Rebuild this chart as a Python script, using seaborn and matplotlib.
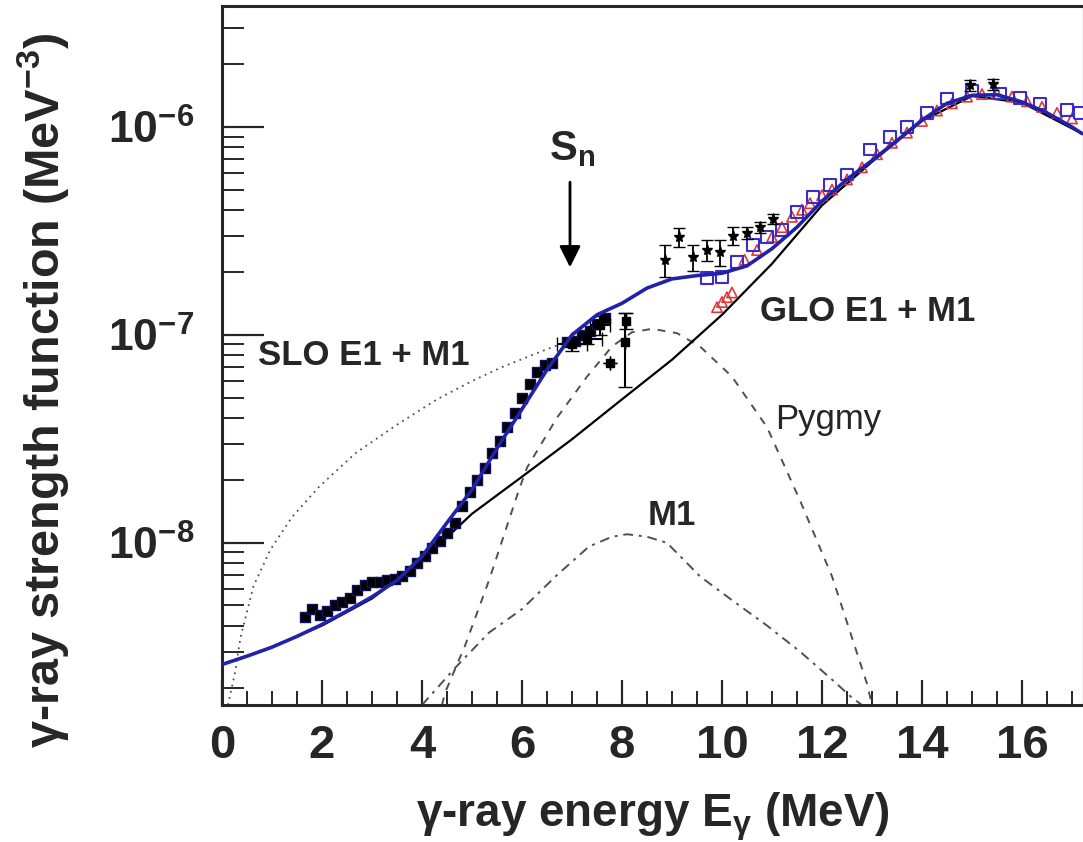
import numpy as np
import pandas as pd
import matplotlib
matplotlib.use('Agg')
import matplotlib.pyplot as plt
import seaborn as sns

# total strength (blue curve)
e_total = [0, 0.5, 1, 1.5, 2, 2.5, 3, 3.5, 4, 4.5, 5, 5.5, 6, 6.5, 7, 7.5, 8, 8.5, 9, 9.5,
           10, 10.5, 11, 11.5, 12, 12.5, 13, 13.5, 14, 14.5, 15, 15.5, 16, 16.5, 17, 17.2]
f_total = [2.6e-9, 2.85e-9, 3.15e-9, 3.55e-9, 4.05e-9, 4.7e-9, 5.5e-9, 6.6e-9, 8.6e-9, 1.25e-8,
           1.8e-8, 2.85e-8, 4.4e-8, 6.8e-8, 1.0e-7, 1.25e-7, 1.42e-7, 1.68e-7, 1.86e-7, 1.93e-7,
           1.98e-7, 2.15e-7, 2.6e-7, 3.3e-7, 4.4e-7, 5.6e-7, 6.9e-7, 8.6e-7, 1.08e-6, 1.3e-6,
           1.42e-6, 1.43e-6, 1.32e-6, 1.17e-6, 1.0e-6, 0.93e-6]

# GLO E1 + M1
e_glo = [0, 1, 2, 3, 4, 5, 6, 7, 8, 9, 10, 11, 12, 13, 14, 15, 16, 17.2]
f_glo = [2.6e-9, 3.15e-9, 4.0e-9, 5.4e-9, 8.2e-9, 1.38e-8, 2.08e-8, 3.15e-8, 4.9e-8, 7.6e-8,
         1.25e-7, 2.2e-7, 4.2e-7, 6.8e-7, 1.07e-6, 1.41e-6, 1.31e-6, 0.93e-6]

# SLO E1 + M1
e_slo = [0.12, 0.26, 0.37, 0.63, 0.97, 1.4, 1.94, 2.67, 3.5, 4.3, 5.0, 5.6, 6.2, 6.9, 7.3]
f_slo = [1.66e-9, 2.37e-9, 3.5e-9, 6.2e-9, 9.3e-9, 1.33e-8, 1.86e-8, 2.7e-8, 3.7e-8, 4.9e-8,
         6.0e-8, 7.0e-8, 8.0e-8, 9.3e-8, 1.0e-7]

# pygmy
e_pyg = [4.4, 4.46, 4.86, 5.34, 5.74, 5.94, 6.1, 6.7, 7.3, 7.8, 8.2, 8.6, 9.1, 9.56, 10.2,
         10.9, 11.56, 12.2, 12.9, 13.0]
f_pyg = [1.66e-9, 1.9e-9, 3.2e-9, 6.6e-9, 1.29e-8, 1.8e-8, 2.3e-8, 4.0e-8, 6.3e-8, 8.8e-8,
         1.03e-7, 1.07e-7, 1.02e-7, 8.8e-8, 6.3e-8, 3.6e-8, 1.6e-8, 6.9e-9, 2.1e-9, 1.66e-9]

# M1
e_m1 = [4.0, 4.66, 5.34, 6.0, 6.7, 7.34, 7.8, 8.1, 8.5, 8.9, 9.56, 10.2, 10.9, 11.56, 12.2, 12.6, 12.8]
f_m1 = [1.66e-9, 2.5e-9, 3.7e-9, 4.8e-9, 7.0e-9, 9.6e-9, 1.07e-8, 1.1e-8, 1.07e-8, 1.0e-8,
        6.9e-9, 5.3e-9, 4.0e-9, 3.0e-9, 2.2e-9, 1.8e-9, 1.66e-9]

# low-energy data (filled squares)
e_low = [1.66, 1.8, 1.95, 2.1, 2.25, 2.4, 2.55, 2.7, 2.85, 3.0, 3.15, 3.3, 3.45, 3.6, 3.75,
         3.9, 4.05, 4.2, 4.35, 4.5, 4.65, 4.8, 4.95, 5.1, 5.25, 5.4, 5.55, 5.7, 5.85, 6.0,
         6.15, 6.3, 6.45, 6.6, 6.9, 7.05, 7.2, 7.35, 7.5, 7.65]
f_low = [4.4e-9, 4.8e-9, 4.5e-9, 4.7e-9, 5.0e-9, 5.2e-9, 5.4e-9, 5.9e-9, 6.3e-9, 6.5e-9,
         6.5e-9, 6.6e-9, 6.7e-9, 6.9e-9, 7.3e-9, 8.0e-9, 8.6e-9, 9.4e-9, 1.02e-8, 1.12e-8,
         1.25e-8, 1.5e-8, 1.75e-8, 2.0e-8, 2.3e-8, 2.7e-8, 3.1e-8, 3.6e-8, 4.2e-8, 5.0e-8,
         5.8e-8, 6.6e-8, 7.2e-8, 7.3e-8, 9.2e-8, 9.4e-8, 1.0e-7, 1.05e-7, 1.13e-7, 1.2e-7]

# points with error bars near Sn
e_sn = [7.0, 7.3, 7.55, 7.75, 8.05, 8.08]
f_sn = [9.0e-8, 9.6e-8, 1.12e-7, 7.3e-8, 9.2e-8, 1.17e-7]
xerr_sn = [0.3, 0.3, 0.2, 0.0, 0.0, 0.0]
yerr_sn = [0.6e-8, 0.6e-8, 1.2e-8, 0.0, 3.6e-8, 1.0e-8]

# star points
e_star = [8.86, 9.13, 9.42, 9.7, 9.96, 10.22, 10.5, 10.76, 11.02, 14.96, 15.42]
f_star = [2.3e-7, 2.96e-7, 2.37e-7, 2.56e-7, 2.5e-7, 3.0e-7, 3.1e-7, 3.3e-7, 3.6e-7, 1.59e-6, 1.61e-6]
yerr_star = [0.4e-7, 0.3e-7, 0.35e-7, 0.3e-7, 0.35e-7, 0.3e-7, 0.2e-7, 0.2e-7, 0.2e-7, 0.1e-6, 0.1e-6]

# open squares
e_sq = [9.7, 10.0, 10.3, 10.62, 10.9, 11.2, 11.5, 11.82, 12.16, 12.5, 12.96, 13.36, 13.7,
        14.1, 14.5, 15.0, 15.56, 15.96, 16.36, 16.9, 17.16]
f_sq = [1.88e-7, 1.9e-7, 2.24e-7, 2.7e-7, 2.96e-7, 3.2e-7, 3.9e-7, 4.6e-7, 5.25e-7, 5.9e-7,
        7.8e-7, 8.95e-7, 1.0e-6, 1.17e-6, 1.37e-6, 1.5e-6, 1.45e-6, 1.38e-6, 1.3e-6, 1.21e-6, 1.17e-6]

# open triangles
e_tri = [9.9, 10.0, 10.1, 10.2, 10.45, 10.7, 11.0, 11.2, 11.4, 11.6, 11.76, 12.0, 12.2, 12.5,
         12.8, 13.1, 13.4, 13.7, 14.0, 14.3, 14.6, 14.9, 15.2, 15.5, 15.8, 16.1, 16.4, 16.7, 17.0]
f_tri = [1.36e-7, 1.44e-7, 1.52e-7, 1.6e-7, 2.3e-7, 2.56e-7, 2.96e-7, 3.3e-7, 3.7e-7, 4.0e-7,
         4.3e-7, 4.7e-7, 5.0e-7, 5.6e-7, 6.4e-7, 7.4e-7, 8.4e-7, 9.4e-7, 1.07e-6, 1.2e-6, 1.3e-6,
         1.4e-6, 1.44e-6, 1.45e-6, 1.4e-6, 1.33e-6, 1.25e-6, 1.17e-6, 1.1e-6]

sns.set_style('ticks')
plt.rcParams['font.family'] = ['Liberation Sans', 'DejaVu Sans']
plt.rcParams['font.weight'] = 'bold'
plt.rcParams['mathtext.fontset'] = 'custom'
plt.rcParams['mathtext.rm'] = 'Liberation Sans:bold'
plt.rcParams['mathtext.bf'] = 'Liberation Sans:bold'
plt.rcParams['mathtext.it'] = 'Liberation Sans:bold'
plt.rcParams['mathtext.default'] = 'bf'

fig = plt.figure(figsize=(10.83, 8.42), dpi=100)
ax = fig.add_axes([222 / 1083, 1 - 705 / 842, 861 / 1083, 699 / 842])

gray = '#505050'
sns.lineplot(x=e_slo, y=f_slo, ax=ax, color=gray, lw=1.3, linestyle=(0, (1, 2.5)), sort=False, estimator=None)
sns.lineplot(x=e_pyg, y=f_pyg, ax=ax, color=gray, lw=1.4, linestyle=(0, (4, 4)), sort=False, estimator=None)
sns.lineplot(x=e_m1, y=f_m1, ax=ax, color=gray, lw=1.4, linestyle=(0, (5, 3, 1.5, 3)), sort=False, estimator=None)
sns.lineplot(x=e_glo, y=f_glo, ax=ax, color='black', lw=1.6, sort=False, estimator=None)

# data
sns.scatterplot(x=e_low, y=f_low, ax=ax, marker='s', color='black', s=55, edgecolor='#101060', linewidth=1, zorder=4)
ax.errorbar(e_sn, f_sn, xerr=xerr_sn, yerr=yerr_sn, fmt='s', color='black', ms=6, lw=1.5, capsize=5, zorder=4)
sns.scatterplot(x=e_tri, y=f_tri, ax=ax, marker='^', s=55, facecolor='none', edgecolor='#e03838', linewidth=1.2, zorder=4)
sns.scatterplot(x=e_sq, y=f_sq, ax=ax, marker='s', s=70, facecolor='none', edgecolor='#3c2cc8', linewidth=1.5, zorder=4)
ax.errorbar(e_star, f_star, yerr=yerr_star, fmt='*', color='black', ms=8, lw=1.3, capsize=4, zorder=4)

sns.lineplot(x=e_total, y=f_total, ax=ax, color='#2222a8', lw=2.6, sort=False, estimator=None, zorder=5)

ax.set_yscale('log')
ax.set_xticks(np.arange(0, 17, 2))
ax.set_xticks(np.arange(0, 17.5, 0.5), minor=True)
ax.set_yticks([1e-8, 1e-7, 1e-6], labels=['$10^{-8}$', '$10^{-7}$', '$10^{-6}$'])
ax.set_yticks([m * 10.0 ** k for k in (-9, -8, -7, -6) for m in range(2, 10)], minor=True)
ax.yaxis.set_minor_formatter(matplotlib.ticker.NullFormatter())
ax.set_xlim(0, 17.22)
ax.set_ylim(1.66e-9, 3.82e-6)

ax.tick_params(axis='x', which='major', direction='in', length=18, width=1.6, labelsize=34, pad=14)
ax.tick_params(axis='x', which='minor', direction='in', length=10, width=1.4)
ax.tick_params(axis='y', which='major', direction='in', length=30, width=1.6, labelsize=32, pad=20)
ax.tick_params(axis='y', which='minor', direction='in', length=16, width=1.4)
for sp in ax.spines.values():
    sp.set_linewidth(2.2)
ax.spines['right'].set_color('#c8c8c8')
ax.spines['right'].set_linewidth(1.0)

ax.set_xlabel('γ-ray energy E$_\\gamma$ (MeV)', fontsize=33, fontweight='bold', labelpad=16)
ax.set_ylabel('γ-ray strength function (MeV$^{-3}$)', fontsize=35, fontweight='bold')
ax.yaxis.set_label_coords(-0.175, 0.45)

ax.text(0.72, 8.0e-8, 'SLO E1 + M1', fontsize=25, fontweight='bold', va='center')
ax.text(10.76, 1.29e-7, 'GLO E1 + M1', fontsize=25, fontweight='bold', va='center')
ax.text(11.06, 3.9e-8, 'Pygmy', fontsize=25, fontweight='normal', va='center')
ax.text(8.52, 1.36e-8, 'M1', fontsize=25, fontweight='bold', va='center')
ax.text(7.0, 7.8e-7, '$S_n$', fontsize=30, ha='center', va='center')
ax.annotate('', xy=(6.96, 2.05e-7), xytext=(6.96, 5.6e-7),
            arrowprops=dict(arrowstyle='-|>', lw=2, color='black', mutation_scale=32))

fig.savefig('out.png', dpi=100)
